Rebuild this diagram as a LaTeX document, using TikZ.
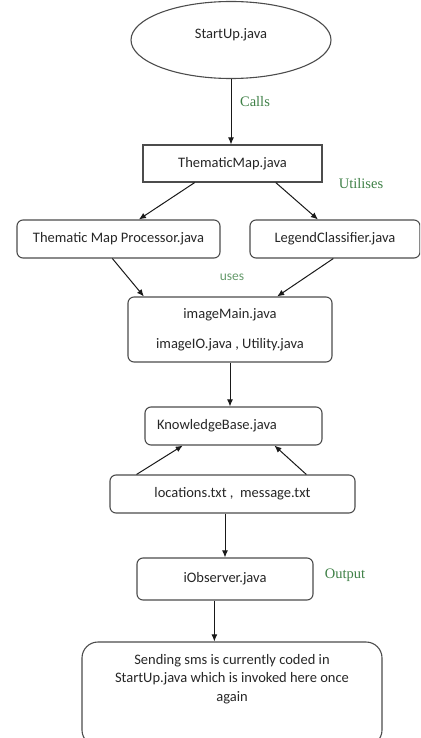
\documentclass[tikz,border=0pt]{standalone}
\usepackage{fontspec}
\setmainfont{Carlito}
\newfontfamily\labelfont{Liberation Serif}
\usetikzlibrary{shapes.geometric,arrows.meta,calc}
\definecolor{LabelGreen}{RGB}{62,128,70}
\colorlet{BoxLine}{black!70}
\colorlet{BoxText}{black!85}
\tikzset{
    box/.style = {draw=BoxLine, line width=1.1pt, rounded corners=6pt, text=BoxText,
        font=\fontsize{14.5}{17}\selectfont, inner sep=0pt},
    flow/.style = {-{Latex[length=7pt,width=6pt]}, line width=1pt, black!90},
    callout/.style = {text=LabelGreen, font=\labelfont\fontsize{14.5}{16}\selectfont}
}

\begin{document}
\begin{tikzpicture}[x=1pt, y=-1pt]

    \clip (0,0) rectangle (420,738);

    % ---------- Boxes

    \node[box, ellipse, rounded corners=0pt, minimum width=200pt, minimum height=77pt] (startUp) at (231,40) {};
    \node[text=BoxText, font=\fontsize{14.5}{17}\selectfont] (startUpText) at (231,35) {StartUp.java};

    \node[box, rounded corners=0pt, minimum width=179pt, minimum height=37pt] (thematicMap) at (232.5,163.5) {ThematicMap.java};
    \node[box, minimum width=203pt, minimum height=38pt] (processor) at (118.5,239) {Thematic Map Processor.java};
    \node[box, minimum width=170pt, minimum height=38pt] (legend) at (335,239) {LegendClassifier.java};
    \node[box, minimum width=204pt, minimum height=65pt, align=center] (imageMain) at (230,329.5)
        {imageMain.java\\[13pt]imageIO.java , Utility.java};
    \node[box, minimum width=177pt, minimum height=38pt, text width=153pt, align=left] (knowledge) at (233.5,426)
        {KnowledgeBase.java};
    \node[box, minimum width=245pt, minimum height=38pt] (locations) at (232.5,494) {locations.txt ,\ \ message.txt};
    \node[box, minimum width=176pt, minimum height=42pt] (observer) at (225,579) {iObserver.java};
    \node[box, rounded corners=16pt, minimum width=300pt, minimum height=104pt, align=center,
        font=\fontsize{14.5}{18.5}\selectfont] (sms) at (232,694)
        {Sending sms is currently coded in\\StartUp.java which is invoked here once\\again\\[14pt]};

    % Show labels
    \node[callout] (calls) at (255,102) {Calls};
    \node[callout] (utilises) at (361,184) {Utilises};
    \node[text=LabelGreen!80, font=\fontsize{13.5}{15}\selectfont] (uses) at (232,277) {uses};
    \node[callout] (output) at (345,575) {Output};

    % ---------- Arrows

    \draw[flow] (startUp.south) -- (startUp.south |- thematicMap.north);
    \draw[flow] ($(thematicMap.south west)!0.29!(thematicMap.south east)$) -- ($(processor.north west)!0.6!(processor.north east)$);
    \draw[flow] ($(thematicMap.south west)!0.74!(thematicMap.south east)$) -- ($(legend.north west)!0.4!(legend.north east)$);
    \draw[flow] ($(processor.south west)!0.47!(processor.south east)$) -- ($(imageMain.north west)!0.08!(imageMain.north east)$);
    \draw[flow] ($(legend.south west)!0.49!(legend.south east)$) -- ($(imageMain.north west)!0.73!(imageMain.north east)$);
    \draw[flow] (imageMain.south) -- (imageMain.south |- knowledge.north);
    \draw[flow] ($(locations.north west)!0.11!(locations.north east)$) -- ($(knowledge.south west)!0.215!(knowledge.south east)$);
    \draw[flow] ($(locations.north west)!0.8!(locations.north east)$) -- ($(knowledge.south west)!0.73!(knowledge.south east)$);
    \draw[flow] (observer.north |- locations.south) -- (observer.north);
    \draw[flow] ($(observer.south west)!0.44!(observer.south east)$) coordinate (obsOut) -- (obsOut |- sms.north);

\end{tikzpicture}
\end{document}
